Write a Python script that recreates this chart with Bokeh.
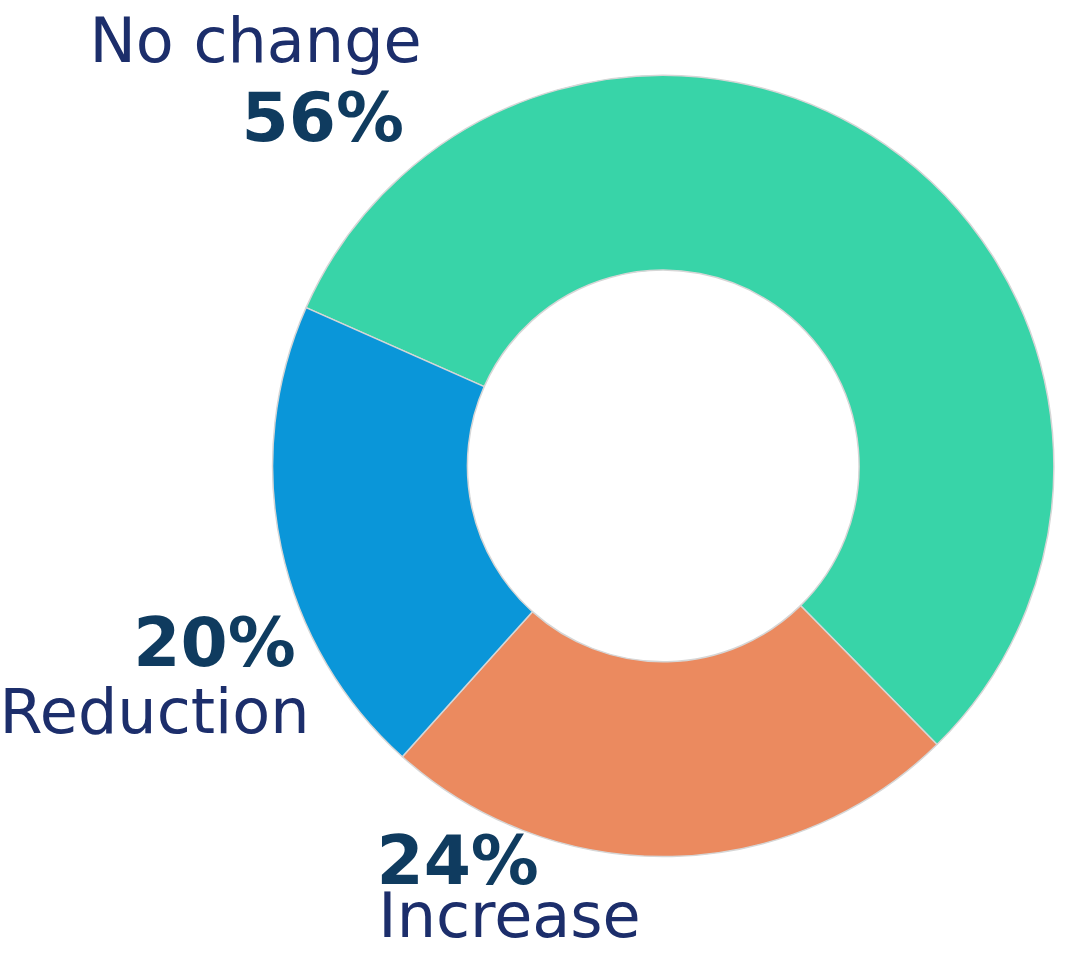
import math
from bokeh.plotting import figure
from bokeh.models import ColumnDataSource, Range1d
from bokeh.core.properties import value
from bokeh.embed import file_html
from bokeh.resources import INLINE

categories = ["No change", "Increase", "Reduction"]
shares = [56, 24, 20]
colors = ["#38D4A8", "#EB8A5F", "#0A96D9"]
pct_labels = ["56%", "24%", "20%"]

W, H = 1060, 956
S = 0.984  # layout scale so the whole composition fits the window
def X(px):
    return px * S
def Y(py):
    return H - py * S

start_deg = 156.1
total = sum(shares)
starts, ends = [], []
acc = 0.0
for s in shares:
    a0 = math.radians(start_deg - acc / total * 360)
    acc += s
    a1 = math.radians(start_deg - acc / total * 360)
    starts.append(a0)
    ends.append(a1)

src = ColumnDataSource(dict(cat=categories, share=shares, color=colors,
                            start=starts, end=ends))

p = figure(width=W, height=H, output_backend="svg", toolbar_location=None,
           x_range=Range1d(0, W), y_range=Range1d(0, H), min_border=0)
p.axis.visible = False
p.grid.visible = False
p.outline_line_color = None
p.background_fill_color = "white"

p.annular_wedge(x=X(673.5), y=Y(473), inner_radius=199 * S, outer_radius=397 * S,
                start_angle="start", end_angle="end", direction="clock",
                fill_color="color", line_color="#D6D6D6", line_width=1.5,
                source=src)

name_color = "#1C2E6B"
pct_color = "#0F3B5F"
BASE_FIX = 25  # compensate renderer's baseline offset
# labels: (text, px, py, align, bold)
labels = [
    (categories[0], 428, 66, "right", False),
    (pct_labels[0], 410, 144, "right", True),
    (pct_labels[2], 300, 678, "right", True),
    (categories[2], 314, 748, "right", False),
    (pct_labels[1], 382, 899, "left", True),
    (categories[1], 384, 955, "left", False),
]
for t, px, py, al, bold in labels:
    fs = (69 if bold else 63) * S
    p.text(x=[X(px)], y=[Y(py) + BASE_FIX], text=[t], text_align=al,
           text_baseline="alphabetic",
           text_font=value("DejaVu Sans"),
           text_font_size=f"{fs:.1f}px",
           text_font_style="bold" if bold else "normal",
           text_color=pct_color if bold else name_color)

open("out.html", "w").write(file_html(p, INLINE))
